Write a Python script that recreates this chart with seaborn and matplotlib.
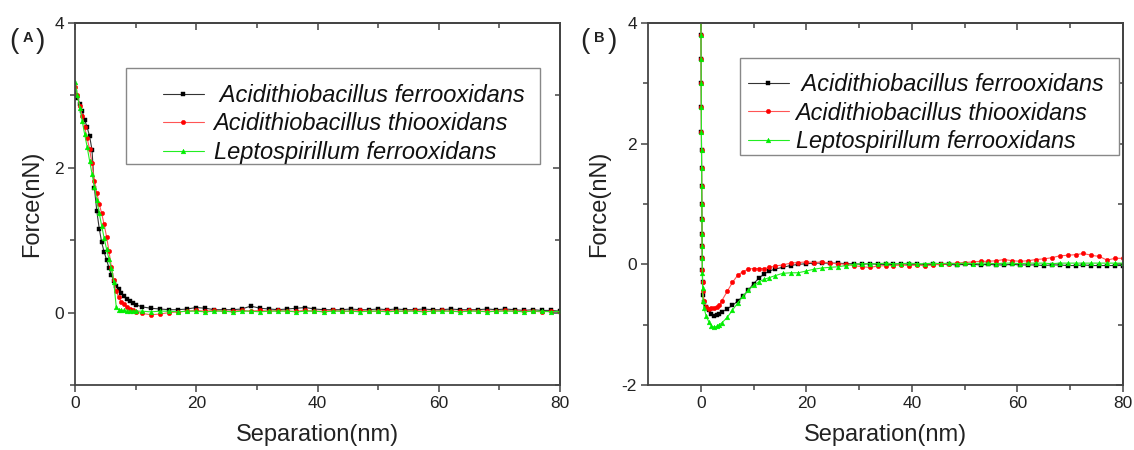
import numpy as np
import pandas as pd
import matplotlib
matplotlib.use("Agg")
import matplotlib.pyplot as plt
from matplotlib.patches import Rectangle
import seaborn as sns

# ---------------- data ----------------
labels = [" Acidithiobacillus ferrooxidans", "Acidithiobacillus thiooxidans", "Leptospirillum ferrooxidans"]

# Panel A (separation, nm)
xa = [0.0, 0.4, 0.8, 1.2, 1.6, 2.0, 2.4, 2.8, 3.2, 3.6, 4.0, 4.4, 4.8, 5.2, 5.6, 6.0, 6.4, 6.8, 7.2, 7.6, 8.0,
      8.5, 9.0, 9.5, 10.0, 11.0,
      12.5, 14.0, 15.5, 17.0, 18.5, 20.0, 21.5, 23.0, 24.5, 26.0,
      27.5, 29.0, 30.5, 32.0, 33.5, 35.0, 36.5, 38.0, 39.5, 41.0,
      42.5, 44.0, 45.5, 47.0, 48.5, 50.0, 51.5, 53.0, 54.5, 56.0,
      57.5, 59.0, 60.5, 62.0, 63.5, 65.0, 66.5, 68.0, 69.5, 71.0,
      72.5, 74.0, 75.5, 77.0, 78.5, 80.0]
ya_ferro = [3.05, 2.97, 2.88, 2.78, 2.66, 2.56, 2.44, 2.25, 1.72, 1.40, 1.16, 0.97, 0.84, 0.73, 0.62, 0.52, 0.44, 0.37, 0.32, 0.27, 0.23,
            0.19, 0.16, 0.13, 0.11, 0.08,
            0.06, 0.05, 0.04, 0.04, 0.05, 0.07, 0.06, 0.04, 0.04, 0.04,
            0.05, 0.09, 0.06, 0.05, 0.04, 0.05, 0.06, 0.07, 0.05, 0.04,
            0.04, 0.04, 0.05, 0.04, 0.04, 0.05, 0.04, 0.05, 0.04, 0.04,
            0.05, 0.04, 0.04, 0.05, 0.04, 0.04, 0.04, 0.05, 0.04, 0.05,
            0.04, 0.03, 0.04, 0.03, 0.03, 0.02]
ya_thio = [3.12, 3.00, 2.86, 2.71, 2.56, 2.41, 2.26, 2.06, 1.82, 1.65, 1.50, 1.37, 1.22, 1.05, 0.85, 0.63, 0.45, 0.30, 0.21, 0.15, 0.12,
           0.08, 0.05, 0.03, 0.01, -0.01,
           -0.03, -0.02, 0.00, 0.01, 0.02, 0.03, 0.02, 0.03, 0.02, 0.02,
           0.03, 0.02, 0.03, 0.02, 0.03, 0.02, 0.02, 0.03, 0.02, 0.02,
           0.03, 0.02, 0.02, 0.03, 0.02, 0.02, 0.03, 0.02, 0.02, 0.03,
           0.02, 0.02, 0.03, 0.02, 0.02, 0.03, 0.02, 0.02, 0.02, 0.03,
           0.02, 0.02, 0.02, 0.01, 0.02, 0.01]
ya_lepto = [3.18, 3.00, 2.82, 2.64, 2.46, 2.29, 2.10, 1.92, 1.74, 1.55, 1.37, 1.20, 1.03, 0.88, 0.74, 0.61, 0.42, 0.08, 0.04, 0.03, 0.03,
            0.02, 0.02, 0.02, 0.02, 0.02,
            0.01, 0.02, 0.02, 0.01, 0.02, 0.02, 0.01, 0.02, 0.02, 0.01,
            0.02, 0.02, 0.01, 0.02, 0.02, 0.02, 0.01, 0.02, 0.02, 0.01,
            0.02, 0.02, 0.02, 0.01, 0.02, 0.02, 0.01, 0.02, 0.02, 0.02,
            0.01, 0.02, 0.02, 0.02, 0.01, 0.02, 0.02, 0.01, 0.02, 0.02,
            0.02, 0.01, 0.02, 0.02, 0.01, 0.02]

# Panel B (separation, nm)
xb = [0.00, 0.02, 0.04, 0.06, 0.08, 0.10, 0.12, 0.14, 0.16, 0.18, 0.20, 0.22, 0.24, 0.26, 0.28, 0.30, 0.35, 0.40,
      0.6, 1.0, 1.5, 2.0, 2.5, 3.0, 3.5, 4.0, 5.0, 6.0, 7.0, 8.0, 9.0, 10.0, 11.0, 12.0, 13.0, 14.0,
      15.5, 17.0, 18.5, 20.0, 21.5, 23.0, 24.5, 26.0, 27.5, 29.0,
      30.5, 32.0, 33.5, 35.0, 36.5, 38.0, 39.5, 41.0, 42.5, 44.0,
      45.5, 47.0, 48.5, 50.0, 51.5, 53.0, 54.5, 56.0, 57.5, 59.0,
      60.5, 62.0, 63.5, 65.0, 66.5, 68.0, 69.5, 71.0, 72.5, 74.0,
      75.5, 77.0, 78.5, 80.0]
yb_ferro = [4.6, 4.2, 3.8, 3.4, 3.0, 2.6, 2.2, 1.9, 1.6, 1.3, 1.0, 0.75, 0.5, 0.3, 0.1, -0.1, -0.3, -0.5,
            -0.62, -0.70, -0.76, -0.82, -0.85, -0.84, -0.82, -0.79, -0.74, -0.68, -0.61, -0.53, -0.43, -0.32, -0.23, -0.16, -0.11, -0.08,
            -0.05, -0.02, 0.00, 0.01, 0.02, 0.02, 0.02, 0.02, 0.01, 0.01,
            0.00, 0.01, 0.00, 0.00, 0.00, 0.01, 0.00, 0.00, -0.01, 0.00,
            0.00, 0.00, -0.01, 0.00, 0.00, -0.01, 0.00, -0.01, -0.01, 0.00,
            -0.01, -0.01, -0.01, -0.02, -0.01, -0.01, -0.02, -0.02, -0.01, -0.02,
            -0.02, -0.02, -0.02, -0.02]
yb_thio = [4.6, 4.2, 3.8, 3.4, 3.0, 2.6, 2.2, 1.9, 1.6, 1.3, 1.0, 0.75, 0.5, 0.3, 0.1, -0.1, -0.3, -0.45,
           -0.60, -0.70, -0.74, -0.73, -0.72, -0.71, -0.68, -0.60, -0.45, -0.30, -0.18, -0.12, -0.08, -0.07, -0.07, -0.07, -0.05, -0.03,
           -0.01, 0.02, 0.03, 0.04, 0.03, 0.04, 0.02, 0.01, 0.00, -0.02,
           -0.04, -0.05, -0.03, -0.02, -0.02, -0.01, -0.02, -0.01, -0.02, -0.01,
           0.00, 0.01, 0.02, 0.03, 0.04, 0.05, 0.05, 0.06, 0.08, 0.06,
           0.05, 0.06, 0.08, 0.09, 0.11, 0.14, 0.15, 0.16, 0.18, 0.15,
           0.13, 0.07, 0.10, 0.10]
yb_lepto = [4.6, 4.2, 3.8, 3.4, 3.0, 2.6, 2.2, 1.9, 1.6, 1.3, 1.0, 0.75, 0.5, 0.3, 0.1, -0.15, -0.4, -0.6,
            -0.72, -0.85, -0.95, -1.02, -1.04, -1.03, -1.00, -0.97, -0.88, -0.76, -0.64, -0.53, -0.43, -0.35, -0.29, -0.25, -0.22, -0.19,
            -0.15, -0.14, -0.14, -0.11, -0.08, -0.06, -0.05, -0.04, -0.02, 0.00,
            0.01, 0.01, 0.01, 0.02, 0.01, 0.01, 0.02, 0.01, 0.01, 0.02,
            0.01, 0.02, 0.01, 0.02, 0.01, 0.02, 0.02, 0.01, 0.02, 0.02,
            0.01, 0.02, 0.02, 0.02, 0.01, 0.02, 0.02, 0.02, 0.02, 0.02,
            0.02, 0.02, 0.02, 0.02]

for arr in (ya_ferro, ya_thio, ya_lepto):
    assert len(arr) == len(xa), len(arr)
for arr in (yb_ferro, yb_thio, yb_lepto):
    assert len(arr) == len(xb), len(arr)

# ---------------- style ----------------
sns.set_style("white")
plt.rcParams["font.family"] = ["Liberation Sans", "DejaVu Sans"]
plt.rcParams["axes.unicode_minus"] = False

W, H = 1134, 450
fig = plt.figure(figsize=(W / 100, H / 100), dpi=100)
axA = fig.add_axes([75 / W, 65 / H, 485 / W, 362 / H])
axB = fig.add_axes([648 / W, 65 / H, 475 / W, 362 / H])

series_style = [
    dict(color="#333333", marker="s", mfc="#000000", mec="#000000", ms=3.0),
    dict(color="#ff5555", marker="o", mfc="#ff0000", mec="#ff0000", ms=3.2),
    dict(color="#22ee22", marker="^", mfc="#00ee00", mec="#00ee00", ms=3.4),
]

spine_col = "#444444"
text_col = "#222222"


def draw_panel(ax, x, ys):
    for y, lab, st in zip(ys, labels, series_style):
        sns.lineplot(x=x, y=y, ax=ax, estimator=None, sort=False,
                     color=st["color"], linewidth=0.8, marker=st["marker"],
                     markersize=st["ms"], markerfacecolor=st["mfc"],
                     markeredgecolor=st["mec"], markeredgewidth=0.3,
                     label=lab, legend=False)
    for s in ax.spines.values():
        s.set_color(spine_col)
        s.set_linewidth(1.3)
    ax.tick_params(which="both", direction="out", colors=spine_col,
                   labelcolor=text_col, labelsize=12.5, width=1.1,
                   bottom=True, left=True, top=False, right=False, pad=3)
    ax.tick_params(which="major", length=5)
    ax.tick_params(which="minor", length=3.5)
    ax.set_xlabel("Separation(nm)", fontsize=17, color=text_col, labelpad=9)
    ax.set_ylabel("Force(nN)", fontsize=17, color=text_col, labelpad=8)


def mirror_ticks(ax, xmaj, xmin, ymaj, ymin):
    sx = ax.secondary_xaxis("top")
    sx.set_xticks(xmaj)
    sx.set_xticks(xmin, minor=True)
    sx.tick_params(which="both", direction="in", top=True, labeltop=False, colors=spine_col, width=1.1)
    sx.tick_params(which="major", length=5)
    sx.tick_params(which="minor", length=3.5)
    sx.spines["top"].set_color(spine_col)
    sx.spines["top"].set_linewidth(1.3)
    sy = ax.secondary_yaxis("right")
    sy.set_yticks(ymaj)
    sy.set_yticks(ymin, minor=True)
    sy.tick_params(which="both", direction="in", right=True, labelright=False, colors=spine_col, width=1.1)
    sy.tick_params(which="major", length=5)
    sy.tick_params(which="minor", length=3.5)
    sy.spines["right"].set_color(spine_col)
    sy.spines["right"].set_linewidth(1.3)


def add_legend(ax, box, anchor, fs, hl, htp):
    ax.add_patch(Rectangle((box[0], box[1]), box[2] - box[0], box[3] - box[1],
                           transform=ax.transAxes, fill=True, facecolor="white",
                           edgecolor="#888888", linewidth=1.0, zorder=4))
    h, l = ax.get_legend_handles_labels()
    leg = ax.legend(h, l, loc="upper left", bbox_to_anchor=anchor, frameon=False,
                    borderpad=0, borderaxespad=0, handlelength=hl, handletextpad=htp,
                    labelspacing=0.24, prop=dict(style="italic", size=fs))
    leg.set_zorder(5)
    for t in leg.get_texts():
        t.set_color("#111111")


# Panel A
draw_panel(axA, xa, [ya_ferro, ya_thio, ya_lepto])
axA.set_xlim(0, 80)
axA.set_ylim(-1, 4)
axA.set_xticks([0, 20, 40, 60, 80])
axA.set_xticks([10, 30, 50, 70], minor=True)
axA.set_yticks([0, 2, 4])
axA.set_yticks([-1, 1, 3], minor=True)
mirror_ticks(axA, [0, 20, 40, 60, 80], [10, 30, 50, 70], [0, 2, 4], [-1, 1, 3])
add_legend(axA, (0.105, 0.61, 0.959, 0.876), (0.181, 0.832), 17, 1.75, 0.4)

# Panel B
draw_panel(axB, xb, [yb_ferro, yb_thio, yb_lepto])
axB.set_xlim(-10, 80)
axB.set_ylim(-2, 4)
axB.set_xticks([0, 20, 40, 60, 80])
axB.set_xticks([10, 30, 50, 70], minor=True)
axB.set_yticks([-2, 0, 2, 4])
axB.set_yticks([-1, 1, 3], minor=True)
mirror_ticks(axB, [0, 20, 40, 60, 80], [10, 30, 50, 70], [-2, 0, 2, 4], [-1, 1, 3])
add_legend(axB, (0.194, 0.635, 0.992, 0.903), (0.21, 0.862), 16.8, 1.75, 0.3)

# Panel labels
for cx, lab in ((13.5, "A"), (585, "B")):
    fig.text((cx) / W, 1 - 41 / H, "(", fontsize=20, ha="center", va="center", color=text_col)
    fig.text((cx + 14) / W, 1 - 38 / H, lab, fontsize=10.5, fontweight="bold", ha="center", va="center", color=text_col)
    fig.text((cx + 27) / W, 1 - 41 / H, ")", fontsize=20, ha="center", va="center", color=text_col)

fig.savefig("out.png", dpi=100)
